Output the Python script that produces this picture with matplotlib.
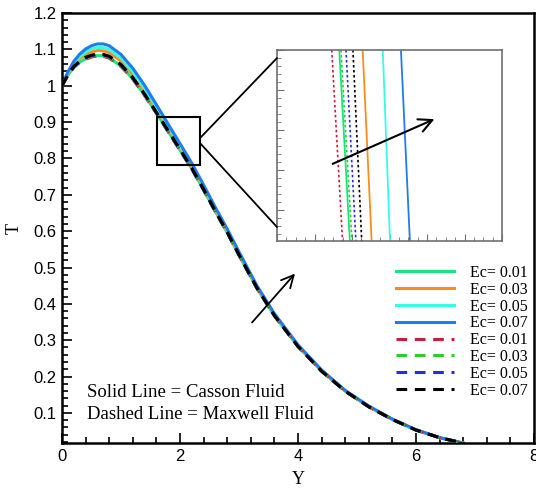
import matplotlib
matplotlib.use("Agg")
import matplotlib.pyplot as plt
from matplotlib.patches import Rectangle, ConnectionPatch
from matplotlib.ticker import MultipleLocator, FormatStrFormatter

# Y positions shared by all profiles
y_vals = [0, 0.1, 0.2, 0.3, 0.4, 0.5, 0.6, 0.7, 0.8, 1.0, 1.2, 1.4, 1.6, 1.8, 2.0,
          2.2, 2.4, 2.6, 2.8, 3.0, 3.3, 3.6, 4.0, 4.4, 4.8, 5.2, 5.6, 6.0, 6.4, 6.8]

# Casson fluid (solid lines)
casson_001 = [1.000, 1.029, 1.051, 1.065, 1.074, 1.080, 1.083, 1.082, 1.077, 1.054, 1.019, 0.974, 0.925, 0.874, 0.823,
              0.772, 0.714, 0.654, 0.596, 0.534, 0.444, 0.367, 0.283, 0.215, 0.160, 0.117, 0.082, 0.053, 0.032, 0.017]
casson_003 = [1.000, 1.033, 1.058, 1.075, 1.086, 1.093, 1.097, 1.096, 1.091, 1.068, 1.031, 0.985, 0.934, 0.882, 0.831,
              0.778, 0.719, 0.659, 0.600, 0.538, 0.447, 0.370, 0.284, 0.216, 0.160, 0.117, 0.082, 0.053, 0.032, 0.017]
casson_005 = [1.000, 1.035, 1.062, 1.080, 1.093, 1.101, 1.105, 1.105, 1.100, 1.076, 1.039, 0.993, 0.941, 0.888, 0.835,
              0.782, 0.723, 0.662, 0.603, 0.540, 0.449, 0.371, 0.286, 0.217, 0.161, 0.118, 0.082, 0.053, 0.032, 0.017]
casson_007 = [1.000, 1.038, 1.067, 1.087, 1.101, 1.110, 1.115, 1.115, 1.110, 1.086, 1.048, 1.001, 0.948, 0.894, 0.841,
              0.787, 0.727, 0.665, 0.606, 0.543, 0.451, 0.373, 0.287, 0.218, 0.162, 0.119, 0.083, 0.054, 0.032, 0.017]

# Maxwell fluid (dashed lines)
maxwell_001 = [1.000, 1.028, 1.050, 1.064, 1.073, 1.079, 1.082, 1.081, 1.076, 1.053, 1.018, 0.973, 0.924, 0.873, 0.822,
               0.771, 0.713, 0.653, 0.596, 0.534, 0.444, 0.367, 0.283, 0.215, 0.160, 0.117, 0.082, 0.053, 0.032, 0.017]
maxwell_003 = [1.000, 1.029, 1.051, 1.066, 1.075, 1.081, 1.084, 1.083, 1.078, 1.055, 1.020, 0.975, 0.925, 0.874, 0.823,
               0.772, 0.714, 0.654, 0.596, 0.534, 0.444, 0.367, 0.283, 0.215, 0.160, 0.117, 0.082, 0.053, 0.032, 0.017]
maxwell_005 = [1.000, 1.030, 1.052, 1.067, 1.077, 1.083, 1.086, 1.085, 1.080, 1.057, 1.021, 0.976, 0.926, 0.875, 0.824,
               0.772, 0.714, 0.654, 0.597, 0.535, 0.445, 0.368, 0.283, 0.215, 0.160, 0.117, 0.082, 0.053, 0.032, 0.017]
maxwell_007 = [1.000, 1.030, 1.053, 1.068, 1.078, 1.084, 1.087, 1.086, 1.081, 1.058, 1.022, 0.977, 0.927, 0.876, 0.825,
               0.773, 0.715, 0.655, 0.597, 0.535, 0.445, 0.368, 0.283, 0.215, 0.160, 0.117, 0.082, 0.053, 0.032, 0.017]

# zoomed window: Y where each curve crosses the top / bottom of the inset
zoom_t = [0.8460, 0.8412]
zoom_casson = [[1.9732, 1.9789], [1.9857, 1.9905], [1.9964, 2.0003], [2.0061, 2.0109]]
zoom_maxwell = [[1.9692, 1.9750], [1.9741, 1.9800], [1.9768, 1.9821], [1.9805, 1.9852]]

ec_labels = ['Ec= 0.01', 'Ec= 0.03', 'Ec= 0.05', 'Ec= 0.07']
casson_colors = ['#19e67a', '#ff8c1a', '#33ffe6', '#1e7bf0']
maxwell_colors = ['#c81e3c', '#2ccc2c', '#2a2ae0', '#000000']

serif = 'Liberation Serif'
sans = 'Liberation Sans'

fig = plt.figure(figsize=(5.36, 4.88), dpi=100)
ax = fig.add_axes([62 / 536, 45 / 488, 472 / 536, 430 / 488])

casson = [casson_001, casson_003, casson_005, casson_007]
maxwell = [maxwell_001, maxwell_003, maxwell_005, maxwell_007]

handles = []
for vals, color, label in zip(casson, casson_colors, ec_labels):
    h, = ax.plot(y_vals, vals, color=color, lw=2.2, label=label, zorder=2)
    handles.append(h)
for vals, color, label in zip(maxwell, maxwell_colors, ec_labels):
    h, = ax.plot(y_vals, vals, color=color, lw=2.2, ls=(0, (3.5, 2.5)), label=label, zorder=3)
    handles.append(h)

ax.set_xlim(0, 8)
ax.set_ylim(0.0173, 1.2)
ax.xaxis.set_major_locator(MultipleLocator(2))
ax.xaxis.set_minor_locator(MultipleLocator(0.4))
ax.yaxis.set_major_locator(MultipleLocator(0.1))
ax.yaxis.set_minor_locator(MultipleLocator(0.02))
ax.xaxis.set_major_formatter(FormatStrFormatter('%g'))
ax.yaxis.set_major_formatter(FormatStrFormatter('%g'))
ax.tick_params(which='both', direction='in', top=False, right=False, width=1.2)
ax.tick_params(which='major', length=7, labelsize=12, pad=4)
ax.tick_params(which='minor', length=4)
for lab in ax.get_xticklabels() + ax.get_yticklabels():
    lab.set_fontfamily(sans)
for sp in ax.spines.values():
    sp.set_linewidth(1.8)

ax.set_xlabel('Y', fontfamily=serif, fontsize=13, labelpad=5)
ax.set_ylabel('T', fontfamily=serif, fontsize=13, labelpad=8)

ax.text(0.42, 0.156, 'Solid Line = Casson Fluid', fontfamily=serif, fontsize=13.5, va='center')
ax.text(0.42, 0.097, 'Dashed Line = Maxwell Fluid', fontfamily=serif, fontsize=13.5, va='center')

ax.legend(handles=handles, loc='upper left', bbox_to_anchor=(0.708, 0.414), frameon=False,
          prop={'family': serif, 'size': 11.5}, handlelength=3.6, handletextpad=1.0,
          labelspacing=0.05, borderpad=0, borderaxespad=0)

ax.annotate('', xy=(3.98, 0.489), xytext=(3.19, 0.343),
            arrowprops=dict(arrowstyle='->', lw=1.3, color='black', mutation_scale=22))

ax.add_patch(Rectangle((1.61, 0.781), 0.73, 0.132, fill=False, lw=1.5, ec='black', zorder=4))

# inset
axin = fig.add_axes([277 / 536, 247 / 488, 225 / 536, 191 / 488])
for pair, color in zip(zoom_maxwell, maxwell_colors):
    axin.plot(pair, zoom_t, color=color, lw=1.2, ls=(0, (1.5, 1.5)))
for pair, color in zip(zoom_casson, casson_colors):
    axin.plot(pair, zoom_t, color=color, lw=1.3)
axin.set_xlim(1.94, 2.06)
axin.set_ylim(0.84123, 0.8460)
axin.xaxis.set_major_locator(MultipleLocator(0.02))
axin.xaxis.set_minor_locator(MultipleLocator(0.005))
axin.yaxis.set_major_locator(MultipleLocator(0.001))
axin.yaxis.set_minor_locator(MultipleLocator(0.0002))
axin.tick_params(which='both', direction='in', labelleft=False, labelbottom=False, color='#707070')
axin.tick_params(which='major', length=5)
axin.tick_params(which='minor', length=3)
for sp in axin.spines.values():
    sp.set_color('#707070')
    sp.set_linewidth(1.2)

axin.annotate('', xy=(0.711, 0.644), xytext=(0.236, 0.398), xycoords='axes fraction',
              textcoords='axes fraction',
              arrowprops=dict(arrowstyle='->', lw=1.5, color='black', mutation_scale=24))

for ya, yb in [(0.856, 0.958), (0.842, 0.073)]:
    con = ConnectionPatch(xyA=(2.34, ya), coordsA=ax.transData, xyB=(0, yb), coordsB=axin.transAxes,
                          color='black', lw=1.3)
    fig.add_artist(con)

fig.savefig('out.png', dpi=100)
